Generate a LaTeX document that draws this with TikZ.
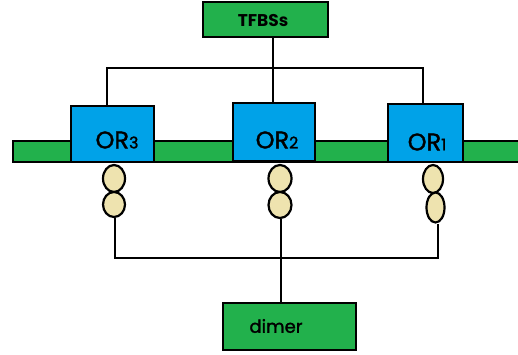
\documentclass[tikz,border=0pt]{standalone}
\usepackage{fontspec}
\setmainfont{Poppins}
\newfontfamily\medfont[FakeBold=1.5]{Poppins}
\definecolor{leafgreen}{RGB}{34,177,76}
\definecolor{skyblue}{RGB}{0,162,232}
\definecolor{beige}{RGB}{238,227,175}
\tikzset{
  box/.style={draw=black, line width=2.4pt, inner sep=0pt},
  greenbox/.style={box, fill=leafgreen},
  orbox/.style={box, fill=skyblue},
  bead/.style={draw=black, line width=2.2pt, fill=beige, ellipse, inner sep=0pt},
  wire/.style={draw=black, line width=2.4pt},
  ortext/.style={font=\medfont\fontsize{24}{24}\selectfont, inner sep=0pt},
}
\usetikzlibrary{shapes.geometric}
\newcommand{\orlabel}[1]{OR{\fontsize{16}{16}\selectfont #1}}
\begin{document}
\begin{tikzpicture}[x=1pt,y=-1pt]
\useasboundingbox (0,0) rectangle (518,355);
\fill[white] (0,0) rectangle (518,355);

% DNA strand
\node[greenbox, minimum width=512pt, minimum height=21pt, anchor=west] (strand) at (12,151.5) {};

% transcription factor binding sites
\node[greenbox, minimum width=125pt, minimum height=35pt] (tfbs) at (265.5,19.5) {};
\node[font=\bfseries\fontsize{17}{17}\selectfont, inner sep=0pt] (tfbstext) at (263,21) {TFBSs};

% receptor boxes
\node[orbox, minimum width=83pt, minimum height=56pt] (or3) at (112.5,134) {};
\node[orbox, minimum width=82pt, minimum height=58pt] (or2) at (274,132) {};
\node[orbox, minimum width=75pt, minimum height=58pt] (or1) at (425.5,133) {};
\node[ortext] (or3text) at (117,140) {\orlabel{3}};
\node[ortext] (or2text) at (277,140) {\orlabel{2}};
\node[ortext] (or1text) at (427,142) {\orlabel{1}};

% paired beads under each receptor
\node[bead, minimum width=22pt, minimum height=27pt] (e3a) at (114,178.5) {};
\node[bead, minimum width=22pt, minimum height=25pt] (e3b) at (114,204.5) {};
\node[bead, minimum width=23pt, minimum height=27pt] (e2a) at (280,178.5) {};
\node[bead, minimum width=23pt, minimum height=26pt] (e2b) at (280,205) {};
\node[bead, minimum width=20pt, minimum height=28pt] (e1a) at (433,179) {};
\node[bead, minimum width=18pt, minimum height=30pt] (e1b) at (435.5,207.5) {};

% dimer box
\node[greenbox, minimum width=133pt, minimum height=47pt] (dimer) at (289.5,326.5) {};
\node[font=\medfont\fontsize{18}{18}\selectfont, inner sep=0pt] (dimertext) at (276,326) {dimer};

% upper connector tree
\coordinate (ht) at (273,68);
\coordinate (t3) at (107,68);
\coordinate (t1) at (423,68);
\draw[wire] (t3 |- or3.north) -- (t3) -- (t1) -- (t1 |- or1.north);
\draw[wire] (ht |- tfbs.south) -- (ht |- or2.north);

% lower connector tree
\coordinate (hb) at (281,258);
\coordinate (b3) at (115,258);
\coordinate (b1) at (438,258);
\draw[wire] (b3 |- e3b.south) -- (b3) -- (b1) -- (b1 |- e1b.south);
\draw[wire] (hb |- e2b.south) -- (hb) -- (hb |- dimer.north);
\end{tikzpicture}
\end{document}
